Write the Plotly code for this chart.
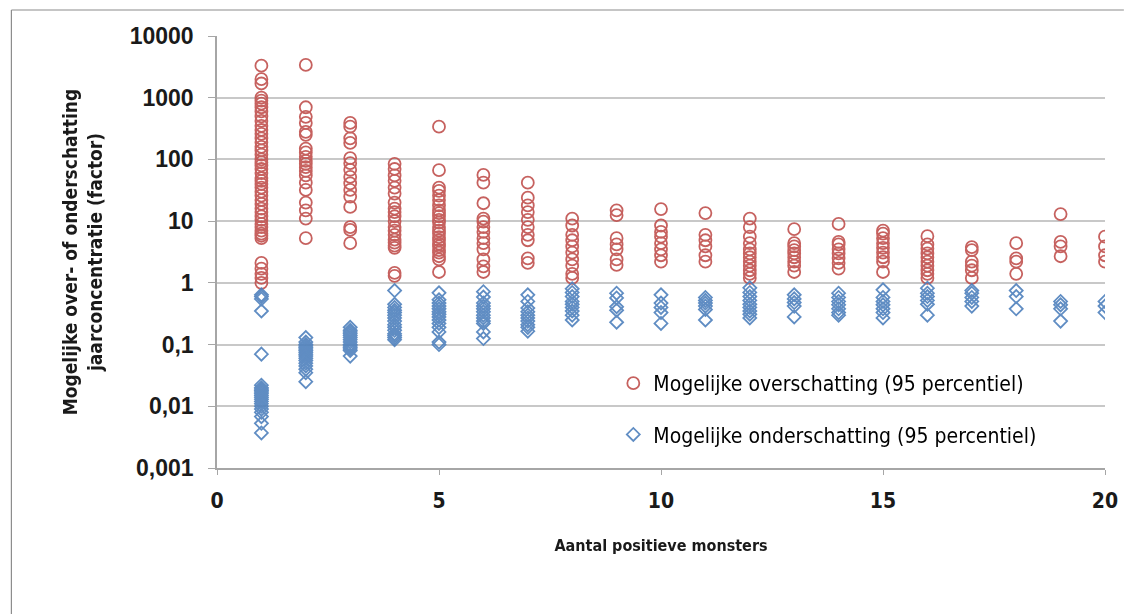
import plotly.graph_objects as go

# Aantal positieve monsters (x) and the estimated factors per count
aantal = list(range(1, 21))

overschatting = [
    [3300, 2000, 1700, 1000, 900, 800, 700, 600, 500, 420, 350, 300, 260, 220, 190,
     160, 140, 120, 100, 90, 80, 70, 60, 50, 45, 40, 35, 30, 26, 22, 19, 16, 14, 12,
     10.5, 9, 8, 7, 6.3, 5.8, 5.3, 2.1, 1.7, 1.4, 1.2, 1.0],
    [3400, 700, 490, 390, 280, 250, 150, 130, 110, 95, 85, 75, 65, 55, 42, 32, 20, 15, 11, 5.3],
    [390, 340, 220, 185, 105, 87, 68, 52, 41, 32, 25, 17, 8, 7.2, 4.4],
    [85, 70, 55, 45, 35, 28, 20, 16, 14, 12, 10, 8, 7, 6, 5, 4.5, 4, 3.7, 1.45, 1.3],
    [340, 67, 35, 31, 26, 22, 18, 15, 13.5, 12, 10.5, 9.5, 8, 7, 6.3, 5.5, 4.9, 4.3,
     3.9, 3.4, 3.1, 2.7, 2.4, 1.5],
    [56, 42, 19.5, 11, 9.8, 8, 6.7, 5.3, 4.4, 3.5, 2.4, 1.85, 1.5],
    [42, 24, 18, 14, 10.5, 8, 6, 4.9, 2.5, 2.1],
    [11, 8.5, 6, 4.9, 3.9, 3.1, 2.4, 1.9, 1.4, 1.2],
    [15, 12.5, 5.3, 4.2, 3.5, 2.4, 1.95],
    [15.7, 8.5, 6.7, 5.6, 4.4, 3.5, 2.8, 2.2],
    [13.5, 6, 4.9, 3.9, 2.8, 2.2],
    [11, 8, 5.6, 4.4, 3.5, 3, 2.6, 2.2, 1.9, 1.6, 1.4, 1.2],
    [7.4, 4.4, 3.9, 3.4, 3, 2.6, 2.2, 1.9, 1.5],
    [9, 4.6, 4.2, 3.5, 3, 2.5, 2.1, 1.7],
    [7, 6.3, 5.3, 4.4, 3.7, 3.1, 2.6, 2.2, 1.5],
    [5.7, 4.2, 3.6, 3, 2.6, 2.2, 1.9, 1.6, 1.4, 1.2],
    [3.8, 3.4, 2.2, 1.9, 1.6, 1.2],
    [4.4, 2.5, 2.2, 1.4],
    [13, 4.6, 3.9, 2.7],
    [5.6, 3.9, 2.8, 2.2],
]

onderschatting = [
    [0.64, 0.6, 0.55, 0.35, 0.07, 0.022, 0.02, 0.019, 0.018, 0.017, 0.016, 0.015,
     0.014, 0.013, 0.012, 0.011, 0.01, 0.009, 0.008, 0.0068, 0.0053, 0.0037],
    [0.13, 0.11, 0.1, 0.095, 0.09, 0.085, 0.08, 0.075, 0.07, 0.065, 0.06, 0.055,
     0.05, 0.045, 0.04, 0.035, 0.025],
    [0.19, 0.17, 0.16, 0.15, 0.14, 0.13, 0.12, 0.11, 0.1, 0.095, 0.09, 0.085, 0.08, 0.065],
    [0.75, 0.45, 0.4, 0.36, 0.33, 0.3, 0.27, 0.24, 0.21, 0.19, 0.17, 0.15, 0.14, 0.13, 0.12],
    [0.69, 0.53, 0.47, 0.42, 0.38, 0.34, 0.31, 0.28, 0.25, 0.22, 0.19, 0.16, 0.11, 0.1],
    [0.72, 0.59, 0.47, 0.42, 0.38, 0.34, 0.3, 0.27, 0.24, 0.22, 0.16, 0.125],
    [0.64, 0.5, 0.39, 0.34, 0.3, 0.27, 0.24, 0.21, 0.19, 0.165],
    [0.8, 0.7, 0.6, 0.5, 0.45, 0.4, 0.35, 0.3, 0.25],
    [0.68, 0.57, 0.41, 0.36, 0.23],
    [0.64, 0.47, 0.4, 0.33, 0.22],
    [0.58, 0.52, 0.47, 0.42, 0.37, 0.25],
    [0.83, 0.7, 0.6, 0.52, 0.45, 0.4, 0.35, 0.31, 0.27],
    [0.64, 0.55, 0.48, 0.42, 0.28],
    [0.68, 0.58, 0.5, 0.44, 0.38, 0.33, 0.3],
    [0.77, 0.58, 0.5, 0.44, 0.38, 0.33, 0.27],
    [0.82, 0.68, 0.6, 0.52, 0.45, 0.3],
    [0.75, 0.68, 0.58, 0.5, 0.42],
    [0.75, 0.6, 0.38],
    [0.5, 0.44, 0.38, 0.24],
    [0.5, 0.42, 0.33],
]

y_tickvals = [0.001, 0.01, 0.1, 1, 10, 100, 1000, 10000]
y_ticktext = ["0,001", "0,01", "0,1", "1", "10", "100", "1000", "10000"]
x_tickvals = [0, 5, 10, 15, 20]


def flatten(groups):
    xs, ys = [], []
    for n, vals in zip(aantal, groups):
        xs.extend([n] * len(vals))
        ys.extend(vals)
    return xs, ys


RED = "#C0504D"
BLUE = "#4F81BD"
NARROW = "DejaVu Sans Condensed, Liberation Sans Narrow, Arial Narrow, Roboto, sans-serif"
TEXT = "#1a1a1a"

fig = go.Figure()

ox, oy = flatten(overschatting)
ux, uy = flatten(onderschatting)

fig.add_trace(go.Scatter(
    x=ox, y=oy, mode="markers", name="Mogelijke overschatting (95 percentiel)",
    legendgroup="over",
    marker=dict(symbol="circle-open", size=12, color=RED, line=dict(width=1.8, color=RED)),
    opacity=0.9,
))
fig.add_trace(go.Scatter(
    x=ux, y=uy, mode="markers", name="Mogelijke onderschatting (95 percentiel)",
    legendgroup="onder",
    marker=dict(symbol="diamond-open", size=10, color=BLUE, line=dict(width=1.8, color=BLUE)),
    opacity=0.9,
))

L, R, T, B = 217, 19, 36, 146
W, H = 1130, 614
pw, ph = W - L - R, H - T - B

# outer chart frame (left and top edges)
fx0 = (10 - L) / pw
fy_top = (H - B - 10) / ph
fy_bot = (H - B - H) / ph
fx1 = (W - L) / pw
fig.add_shape(type="line", xref="paper", yref="paper", x0=fx0, x1=fx0, y0=fy_bot, y1=fy_top,
              line=dict(color="#8C8C8C", width=1.2))
fig.add_shape(type="line", xref="paper", yref="paper", x0=fx0, x1=fx1, y0=fy_top, y1=fy_top,
              line=dict(color="#8C8C8C", width=1.2))

fig.update_layout(
    width=W, height=H,
    margin=dict(l=L, r=R, t=T, b=B, pad=0),
    paper_bgcolor="white", plot_bgcolor="white",
    showlegend=True,
    legend=dict(
        x=(616 - L) / pw, y=(468 - 363) / ph, xanchor="left", yanchor="top",
        bgcolor="rgba(255,255,255,0)", borderwidth=0,
        font=dict(family=NARROW, size=21, color="#000000"),
        traceorder="grouped", tracegroupgap=21,
        itemsizing="trace",
    ),
    xaxis=dict(
        range=[0, 20], tickvals=x_tickvals, ticks="outside", ticklen=5, tickcolor="#A6A6A6",
        showgrid=False, zeroline=False, showline=True, linecolor="#A6A6A6", linewidth=1.5,
        tickfont=dict(family=NARROW, size=21, color=TEXT, weight="bold"),
        ticklabelstandoff=8,
        title=dict(text="Aantal positieve monsters",
                   font=dict(family=NARROW, size=16, color=TEXT, weight="bold"),
                   standoff=28),
    ),
    yaxis=dict(
        type="log", range=[-3, 4], tickvals=y_tickvals, ticktext=y_ticktext,
        ticks="outside", ticklen=7, tickcolor="#A6A6A6",
        showgrid=True, gridcolor="#C8C8C8", gridwidth=1.5,
        zeroline=False, showline=True, linecolor="#A6A6A6", linewidth=1.5,
        tickfont=dict(family="Liberation Sans, Arial, sans-serif", size=23, color=TEXT,
                      weight="bold"),
        ticklabelstandoff=10,
        title=dict(text="Mogelijke over- of onderschatting<br>jaarconcentratie (factor)",
                   font=dict(family=NARROW, size=19, color=TEXT, weight="bold"),
                   standoff=22),
    ),
)

fig.write_html("out.html")
